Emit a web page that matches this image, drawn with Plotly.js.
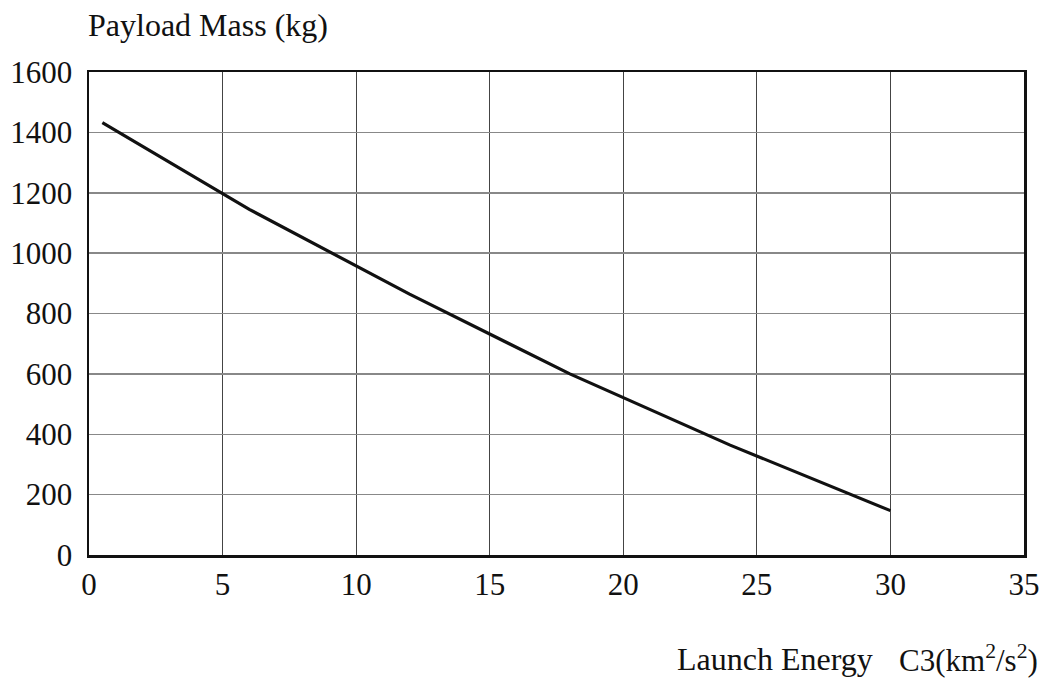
<!DOCTYPE html>
<html>
<head>
<meta charset="utf-8">
<script src="https://cdn.plot.ly/plotly-3.0.1.min.js"></script>
<style>
  html, body { margin: 0; padding: 0; background: #fff; }
  #chart { width: 1053px; height: 678px; }
</style>
</head>
<body>
<div id="chart"></div>
<script>
// Launch energy C3 (km^2/s^2) vs. deliverable payload mass (kg)
const c3Values = [0.5, 6, 12, 18, 24, 30];
const payloadMass = [1432, 1145, 864, 600, 364, 147];

const xTickVals = [0, 5, 10, 15, 20, 25, 30, 35];
const yTickVals = [0, 200, 400, 600, 800, 1000, 1200, 1400, 1600];

const serif = '"Liberation Serif", "Times New Roman", serif';

const trace = {
  x: c3Values,
  y: payloadMass,
  type: 'scatter',
  mode: 'lines',
  line: { color: '#111', width: 3.2 },
  hoverinfo: 'x+y'
};

const layout = {
  width: 1053,
  height: 678,
  margin: { l: 89, r: 29, t: 72, b: 123 },
  paper_bgcolor: '#fff',
  plot_bgcolor: '#fff',
  showlegend: false,
  font: { family: serif, color: '#111', size: 31 },
  xaxis: {
    range: [0, 35],
    tickvals: xTickVals,
    ticktext: xTickVals.map(String),
    showgrid: true,
    gridcolor: '#444',
    gridwidth: 1,
    zeroline: false,
    showline: true,
    linecolor: '#111',
    linewidth: 2.5,
    mirror: true,
    ticks: '',
    ticklabelstandoff: 0,
    tickfont: { family: serif, size: 31, color: '#111' },
    fixedrange: true
  },
  yaxis: {
    range: [0, 1600],
    tickvals: yTickVals,
    ticktext: yTickVals.map(String),
    showgrid: true,
    gridcolor: '#888',
    gridwidth: 1.5,
    zeroline: false,
    showline: true,
    linecolor: '#111',
    linewidth: 2.5,
    mirror: true,
    ticks: '',
    ticklabelstandoff: 8,
    tickfont: { family: serif, size: 31, color: '#111' },
    fixedrange: true
  },
  annotations: [
    {
      text: 'Payload Mass (kg)',
      xref: 'paper', yref: 'paper',
      x: -0.003, y: 1.097,
      xanchor: 'left', yanchor: 'middle',
      showarrow: false,
      font: { family: serif, size: 32, color: '#111' }
    },
    {
      text: 'Launch Energy',
      xref: 'paper', yref: 'paper',
      x: (675 - 89) / 935, y: -0.215,
      xanchor: 'left', yanchor: 'middle',
      showarrow: false,
      font: { family: serif, size: 32, color: '#111' }
    },
    {
      text: 'C3(km<sup>2</sup>/s<sup>2</sup>)',
      xref: 'paper', yref: 'paper',
      x: (1040 - 89) / 935, y: -0.215,
      xanchor: 'right', yanchor: 'middle',
      showarrow: false,
      font: { family: serif, size: 31, color: '#111' }
    }
  ]
};

Plotly.newPlot('chart', [trace], layout, { displayModeBar: false, staticPlot: true });
</script>
</body>
</html>
